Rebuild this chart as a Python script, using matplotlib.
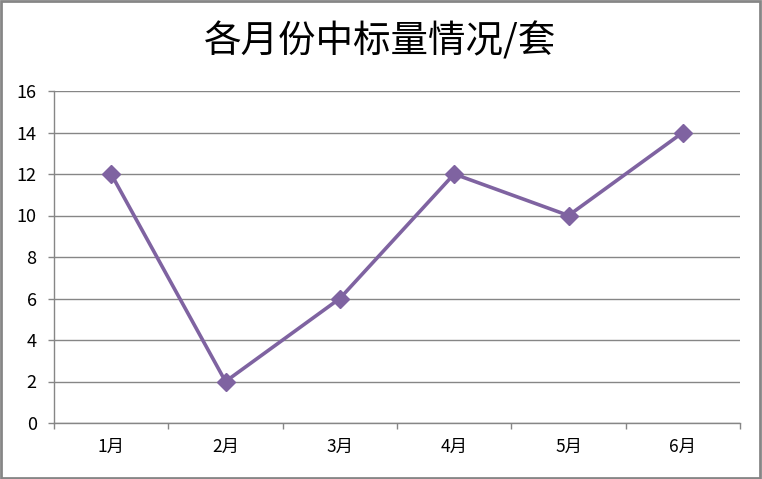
import matplotlib
matplotlib.use("Agg")
import matplotlib.pyplot as plt
from matplotlib.patches import Rectangle

plt.rcParams['font.family'] = ['Noto Sans CJK SC', 'DejaVu Sans']

categories = ["1月", "2月", "3月", "4月", "5月", "6月"]
values = [12, 2, 6, 12, 10, 14]
yticks = [0, 2, 4, 6, 8, 10, 12, 14, 16]
title = "各月份中标量情况/套"

fig = plt.figure(figsize=(7.62, 4.79), dpi=100)
ax = fig.add_axes([54/762, 1-423/479, (740-54)/762, (423-91)/479])

x = list(range(len(categories)))
ax.plot(x, values, color="#7F63A1", linewidth=2.6, marker="D", markersize=9.5,
        markerfacecolor="#7F63A1", markeredgecolor="#7F63A1", zorder=3, clip_on=False)

ax.set_xlim(-0.5, len(categories) - 0.5)
ax.set_ylim(0, 16)
ax.set_yticks(yticks)
ax.set_yticklabels([str(v) for v in yticks], fontsize=13)
ax.set_xticks(x)
ax.set_xticklabels(categories, fontsize=12.5)
ax.tick_params(axis='x', length=0, pad=11)
ax.set_xticks([i - 0.5 for i in range(len(categories) + 1)], minor=True)
ax.tick_params(axis='x', which='minor', length=4.5, color="#868686", width=1, direction='out')
ax.tick_params(axis='y', length=4.5, color="#868686", width=1, direction='out', pad=8)

ax.grid(axis='y', color="#868686", linewidth=1)
ax.set_axisbelow(True)
for s in ['top', 'right']:
    ax.spines[s].set_visible(False)
for s in ['left', 'bottom']:
    ax.spines[s].set_color("#868686")
    ax.spines[s].set_linewidth(1)

fig.text(380/762, 1-42/479, title, ha='center', va='center', fontsize=27)

fig.patches.append(Rectangle((0.001, 0.002), 0.997, 0.995, transform=fig.transFigure,
                             fill=False, edgecolor="#868686", linewidth=2))

fig.savefig("out.png", dpi=100)
